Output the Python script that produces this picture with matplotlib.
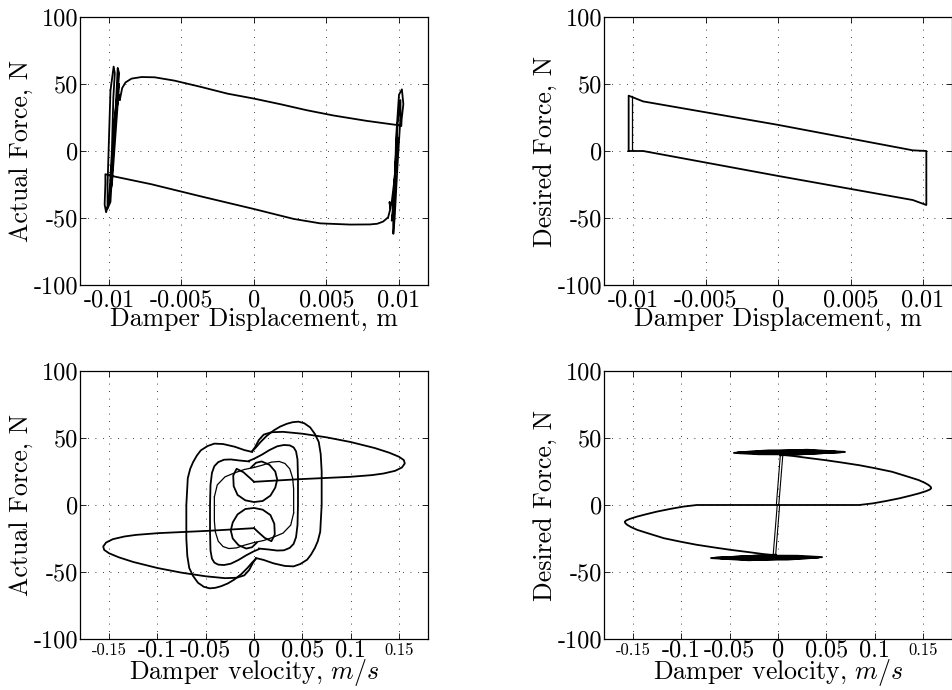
import matplotlib
matplotlib.use("Agg")
import matplotlib.pyplot as plt
import matplotlib.transforms as mtransforms
import numpy as np

plt.rcParams['font.family'] = 'serif'
plt.rcParams['font.serif'] = ['cmr10']
plt.rcParams['mathtext.fontset'] = 'cm'
plt.rcParams['axes.unicode_minus'] = False

# ---------------- data ----------------
# Actual force vs displacement (one full cycle, with end oscillations)
act_disp_x = [-0.00925, -0.00909, -0.00886, -0.00845, -0.00776, -0.00685, -0.00548, -0.00365,
              -0.00183, 0.0, 0.00183, 0.00365, 0.00548, 0.00776, 0.00993, 0.01016, 0.01018,
              0.0103, 0.0102, 0.0100, 0.0098, 0.0097, 0.0096, 0.00961, 0.0097, 0.0099,
              0.0101, 0.0101, 0.0099, 0.0097, 0.0096, 0.0095, 0.0096, 0.0098, 0.0099,
              0.0097, 0.0095, 0.0094, 0.00935, 0.0094, 0.00925, 0.0089, 0.0085, 0.00799,
              0.00662, 0.00457, 0.00274, 0.0, -0.00365, -0.00708, -0.00982,
              -0.01025, -0.01025, -0.0103, -0.0102, -0.0100, -0.0098, -0.0097, -0.0096,
              -0.00968, -0.0099, -0.0100, -0.0101, -0.0101, -0.0099, -0.0097, -0.0095,
              -0.0094, -0.0093, -0.0095, -0.0098, -0.0099, -0.0098, -0.0096, -0.0094,
              -0.0093, -0.0094, -0.0096, -0.0097, -0.0095, -0.0093, -0.00925]
act_disp_f = [38.4, 47.0, 51.2, 54.0, 55.2, 55.0, 52.5, 47.8,
              42.8, 39.1, 34.9, 30.4, 26.5, 22.5, 19.3, 18.6, 23.5,
              35.0, 46.0, 42.0, 10.0, -30.0, -55.0, -61.8, -50.0, -10.0,
              25.0, 38.0, 20.0, -20.0, -45.0, -52.0, -40.0, -5.0, 10.0,
              -20.0, -38.0, -43.0, -38.0, -43.3, -49.5, -52.7, -54.3, -54.8,
              -54.9, -54.0, -50.7, -43.3, -33.9, -24.8, -18.6,
              -17.3, -24.0, -40.0, -45.7, -38.0, 0.0, 40.0, 58.0,
              63.0, 45.0, 10.0, -25.0, -43.0, -38.0, 0.0, 40.0,
              62.0, 58.0, 30.0, -10.0, -30.0, -25.0, 5.0, 35.0,
              50.0, 45.0, 25.0, 15.0, 30.0, 42.0, 38.4]

# Desired force vs displacement
des_disp_x = [-0.0103, -0.0103, -0.0093, 0.0, 0.0093, 0.01023, 0.01023, 0.0093, 0.0,
              -0.0093, -0.0103]
des_disp_f = [0.0, 41.3, 37.0, 19.5, 0.5, 0.0, -40.3, -36.6, -18.6, 0.0, 0.0]
des_disp_x2 = [-0.0101, -0.0101]
des_disp_f2 = [0.5, 41.0]

# Actual force vs velocity -- each curve is drawn together with its point reflection
# main lobe (positive-velocity stroke)
act_vel_lobe_v = [0.0, 0.048, 0.099, 0.122, 0.134, 0.146, 0.153, 0.156, 0.155, 0.150,
                  0.140, 0.125, 0.100, 0.075, 0.050, 0.030, 0.018, 0.010, 0.005, 0.001, -0.002]
act_vel_lobe_f = [17.3, 19.3, 21.0, 22.3, 23.5, 25.5, 28.0, 31.0, 33.5, 36.0,
                  39.0, 42.5, 47.0, 50.5, 53.2, 54.6, 54.3, 52.5, 48.5, 43.0, 40.0]
# outer oscillation loop
act_vel_outer_v = [-0.002, 0.002, 0.0068, 0.013, 0.0205, 0.027, 0.034, 0.040, 0.046, 0.052,
                   0.058, 0.063, 0.067, 0.069, 0.070, 0.070, 0.0685, 0.066, 0.063, 0.059,
                   0.055, 0.048, 0.041, 0.032, 0.020, 0.010, 0.002]
act_vel_outer_f = [40.0, 43.0, 47.0, 51.5, 55.7, 58.5, 60.6, 61.8, 62.2, 61.0,
                   58.0, 53.0, 47.0, 38.0, 25.0, 0.0, -20.0, -27.0, -32.0, -37.0,
                   -40.8, -44.0, -45.8, -45.5, -43.5, -41.0, -39.6]
# middle oscillation loop
act_vel_mid_v = [-0.005, 0.0, 0.008, 0.016, 0.024, 0.031, 0.037, 0.041, 0.0435, 0.045,
                 0.0455, 0.0455, 0.045, 0.0435, 0.041, 0.037, 0.031, 0.024, 0.015, 0.005]
act_vel_mid_f = [33.0, 34.5, 37.5, 41.0, 43.8, 44.8, 44.5, 43.0, 40.0, 34.0,
                 20.0, 0.0, -15.0, -24.0, -29.0, -32.0, -33.8, -34.0, -33.2, -32.5]
# thin inner loop
act_vel_thin_v = [-0.041, -0.038, -0.030, -0.020, -0.010, 0.0, 0.010, 0.018, 0.026, 0.032,
                  0.037, 0.040, 0.041, 0.041, 0.041]
act_vel_thin_f = [6.0, 15.0, 21.0, 24.0, 26.5, 28.0, 30.0, 32.0, 32.5, 31.0,
                  27.0, 20.0, 12.0, 3.0, -6.0]
# small central loop (upper half of the peanut)
act_vel_in_v = [0.0, -0.004, -0.011, -0.018, -0.0215, -0.021, -0.017, -0.009, 0.0, 0.009,
                0.017, 0.022, 0.024, 0.022, 0.016, 0.008, 0.002, -0.003]
act_vel_in_f = [17.3, 20.0, 24.5, 27.0, 22.0, 14.0, 7.5, 3.5, 2.2, 3.0,
                7.0, 13.0, 19.0, 25.0, 30.0, 32.5, 31.5, 28.0]

# Desired force vs velocity -- drawn together with point reflection
des_vel_lobe_v = [0.0, 0.04, 0.084, 0.098, 0.112, 0.1257, 0.137, 0.146, 0.153, 0.157,
                  0.1585, 0.158, 0.156, 0.152, 0.1455, 0.135, 0.118, 0.100, 0.084, 0.065,
                  0.0497, 0.030, 0.0154, 0.0024]
des_vel_lobe_f = [0.0, 0.0, 0.0, 1.2, 3.0, 5.0, 7.0, 8.7, 10.3, 11.5,
                  12.5, 13.5, 14.8, 16.5, 18.6, 21.0, 24.8, 27.5, 29.7, 31.8,
                  33.4, 35.2, 36.6, 37.5]
des_vel_link_v = [-0.0017, 0.0024]
des_vel_link_f = [0.0, 37.1]
des_vel_link2_v = [0.0008, 0.0050]
des_vel_link2_f = [0.0, 37.5]
des_vel_spindle_v = [0.0024, 0.0692, 0.03, -0.0455, -0.02, 0.02, 0.065, 0.03, -0.01, -0.042,
                     -0.01, 0.03, 0.06, 0.02, -0.03, 0.0, 0.05]
des_vel_spindle_f = [37.1, 39.6, 41.2, 38.9, 37.9, 37.8, 39.4, 40.8, 40.7, 39.2,
                     38.3, 38.6, 39.7, 40.4, 39.6, 38.8, 39.5]

disp_ticks = [-0.01, -0.005, 0.0, 0.005, 0.01]
disp_labels = ['-0.01', '-0.005', '0', '0.005', '0.01']
vel_ticks = [-0.15, -0.1, -0.05, 0.0, 0.05, 0.1, 0.15]
vel_labels = ['-0.15', '-0.1', '-0.05', '0', '0.05', '0.1', '0.15']
vel_label_small = [True, False, False, False, False, False, True]
force_ticks = [-100, -50, 0, 50, 100]
force_labels = ['-100', '-50', '0', '50', '100']

# ---------------- drawing ----------------
W, H = 953, 690
fig = plt.figure(figsize=(W / 100, H / 100), dpi=100)

def box(l, t, r, b):
    return [l / W, 1 - b / H, (r - l) / W, (b - t) / H]

ax1 = fig.add_axes(box(80, 17, 428, 285))
ax2 = fig.add_axes(box(604, 17, 952, 285))
ax3 = fig.add_axes(box(80, 371, 428, 639))
ax4 = fig.add_axes(box(604, 371, 952, 639))

TICK = 17.5
LABEL = 18.6
SMALL = 12
vel_label_shift = [0, -10, -10, 0, 0, 0, 0]   # horizontal nudges, pixels

def style(ax):
    ax.set_ylim(-100, 100)
    ax.set_yticks(force_ticks)
    ax.set_yticklabels(force_labels, fontsize=TICK)
    ax.grid(True, color='black', linewidth=0.6, linestyle=(0, (1, 8)))
    ax.tick_params(direction='in', length=4, width=0.6, top=True, right=True,
                   pad=1)
    for s in ax.spines.values():
        s.set_linewidth(0.9)

def disp_axis(ax, ylabel):
    style(ax)
    ax.set_xlim(-0.012, 0.012)
    ax.set_xticks(disp_ticks)
    ax.set_xticklabels(disp_labels, fontsize=TICK)
    ax.tick_params(axis='x', pad=3)
    ax.set_xlabel('Damper Displacement, m', fontsize=LABEL, labelpad=-3)
    ax.set_ylabel(ylabel, fontsize=LABEL, labelpad=1)

def vel_axis(ax, ylabel):
    style(ax)
    ax.set_xlim(-0.18, 0.18)
    ax.set_xticks(vel_ticks)
    ax.set_xticklabels(vel_labels)
    for lab, small, dx in zip(ax.get_xticklabels(), vel_label_small, vel_label_shift):
        lab.set_fontsize(SMALL if small else TICK)
        lab.set_verticalalignment('center')
        lab.set_transform(lab.get_transform() +
                          mtransforms.ScaledTranslation(dx / 100, 0, fig.dpi_scale_trans))
    ax.tick_params(axis='x', pad=8)
    ax.set_xlabel(r'Damper velocity, $m/s$', fontsize=LABEL, labelpad=-3)
    ax.set_ylabel(ylabel, fontsize=LABEL, labelpad=1)

LW = 1.3
K = 'black'

ax1.plot(act_disp_x, act_disp_f, color=K, lw=LW)
disp_axis(ax1, 'Actual Force, N')

ax2.plot(des_disp_x, des_disp_f, color=K, lw=LW)
ax2.plot(des_disp_x2, des_disp_f2, color=K, lw=0.9)
disp_axis(ax2, 'Desired Force, N')

for v, f, lw in [(act_vel_lobe_v, act_vel_lobe_f, LW), (act_vel_outer_v, act_vel_outer_f, LW),
                 (act_vel_mid_v, act_vel_mid_f, LW), (act_vel_thin_v, act_vel_thin_f, 0.9),
                 (act_vel_in_v, act_vel_in_f, LW)]:
    v = np.asarray(v); f = np.asarray(f)
    ax3.plot(v, f, color=K, lw=lw)
    ax3.plot(-v, -f, color=K, lw=lw)
vel_axis(ax3, 'Actual Force, N')

for v, f, lw in [(des_vel_lobe_v, des_vel_lobe_f, LW), (des_vel_link_v, des_vel_link_f, 0.8),
                 (des_vel_link2_v, des_vel_link2_f, 0.8),
                 (des_vel_spindle_v, des_vel_spindle_f, 1.4)]:
    v = np.asarray(v); f = np.asarray(f)
    ax4.plot(v, f, color=K, lw=lw)
    ax4.plot(-v, -f, color=K, lw=lw)
vel_axis(ax4, 'Desired Force, N')

fig.savefig('out.png', dpi=100)
